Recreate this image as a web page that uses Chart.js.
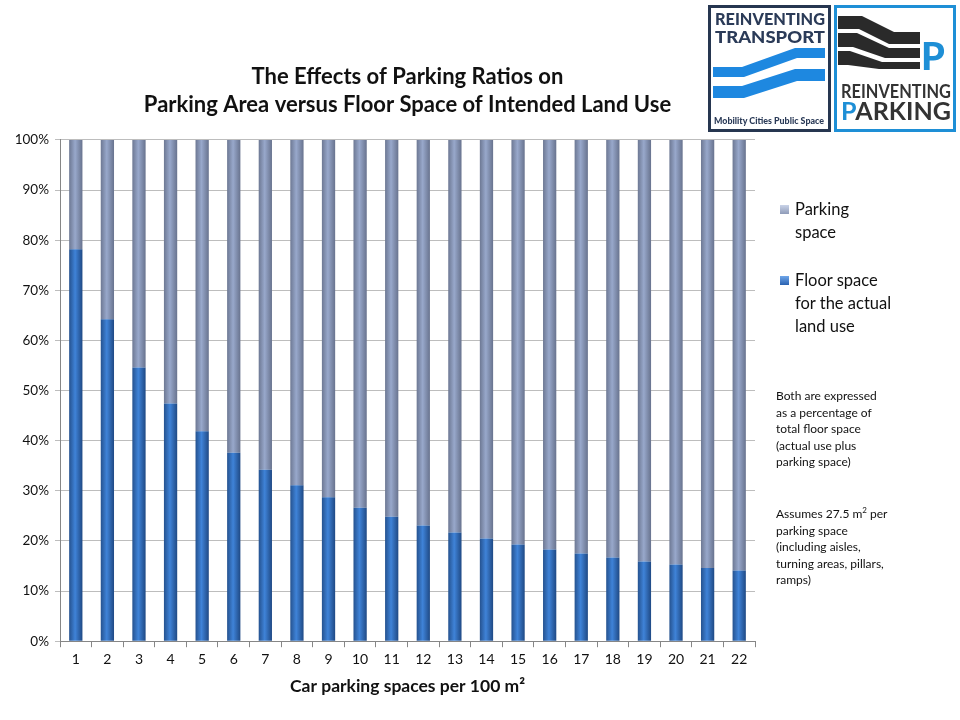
<!DOCTYPE html>
<html>
<head>
<meta charset="utf-8">
<script src="https://cdn.jsdelivr.net/npm/chart.js@4.4.1/dist/chart.umd.min.js"></script>
<style>
  body { margin: 0; background: #fff; font-family: Lato, "Open Sans", sans-serif; }
  #wrap { position: relative; width: 960px; height: 720px; overflow: hidden; }
  #chart { position: absolute; left: 0; top: 0; }
  .legend { position: absolute; left: 780px; font-size: 16.5px; line-height: 23px; color: #111; }
  .legend .box { position: absolute; left: 0; top: 7px; width: 9px; height: 9px; }
  .legend .txt { padding-left: 15px; }
  .note { position: absolute; left: 776px; font-size: 12px; line-height: 16.6px; color: #111; }
  #logos { position: absolute; left: 0; top: 0; }
</style>
</head>
<body>
<div id="wrap">
  <canvas id="chart" width="960" height="720"></canvas>

  <div class="legend" style="top:198px">
    <div class="box" style="background:linear-gradient(#c9d3e8,#8f9bb8)"></div>
    <div class="txt">Parking<br>space</div>
  </div>
  <div class="legend" style="top:269px">
    <div class="box" style="background:linear-gradient(#6fa6ea,#2a62b0)"></div>
    <div class="txt">Floor space<br>for the actual<br>land use</div>
  </div>
  <div class="note" style="top:388px">Both are expressed<br>as a percentage of<br>total floor space<br>(actual use plus<br>parking space)</div>
  <div class="note" style="top:502px">Assumes 27.5 m<sup style="font-size:8px">2</sup> per<br>parking space<br>(including aisles,<br>turning areas, pillars,<br>ramps)</div>

  <svg id="logos" width="960" height="140">
    <!-- Reinventing Transport -->
    <rect x="709.5" y="6.5" width="120" height="124" fill="#fff" stroke="#263650" stroke-width="3"/>
    <text x="715" y="25" font-family="Lato" font-weight="900" font-size="16" fill="#2b3b58" textLength="110" lengthAdjust="spacingAndGlyphs">REINVENTING</text>
    <text x="715" y="43" font-family="Lato" font-weight="900" font-size="16" fill="#2b3b58" textLength="110" lengthAdjust="spacingAndGlyphs">TRANSPORT</text>
    <polygon points="713,67 742,67 795,48 825,48 825,58 797,58 744,77 713,77" fill="#1e88e0"/>
    <polygon points="713,86 742,86 795,69 825,69 825,81 797,81 744,98 713,98" fill="#1e88e0"/>
    <text x="714" y="124" font-family="Lato" font-weight="900" font-size="9" fill="#2b3b58" textLength="110" lengthAdjust="spacingAndGlyphs">Mobility  Cities  Public Space</text>
    <!-- Reinventing Parking -->
    <rect x="835.5" y="6.5" width="119" height="124" fill="#fff" stroke="#1e8fd6" stroke-width="3"/>
    <polygon points="838,16 862,16 894,32 920,32 920,44 889,44 859,29 838,29" fill="#2a2a2a"/>
    <polygon points="838,33 857,33 889,48 920,48 920,58 885,58 853,47 838,47" fill="#2a2a2a"/>
    <polygon points="838,51 850,51 882,62 920,62 920,69 879,69 848,65 838,65" fill="#2a2a2a"/>
    <text x="921" y="70" font-family="Lato" font-weight="900" font-size="38" fill="#1e8fd6">P</text>
    <text x="841" y="98" font-family="Lato" font-weight="700" font-size="19" fill="#333" textLength="110" lengthAdjust="spacingAndGlyphs">REINVENTING</text>
    <text x="841" y="120" font-family="Lato" font-weight="700" font-size="24" fill="#333" textLength="110" lengthAdjust="spacingAndGlyphs"><tspan fill="#1e8fd6">P</tspan>ARKING</text>
  </svg>
</div>

<script>
// car parking spaces per 100 m2
const categories = ['1','2','3','4','5','6','7','8','9','10','11','12','13','14','15','16','17','18','19','20','21','22'];
// floor space for the actual land use, % of total
const floorSpace = [78.2, 64.2, 54.6, 47.4, 41.9, 37.6, 34.2, 31.1, 28.7, 26.6, 24.8, 23.1, 21.7, 20.5, 19.3, 18.3, 17.5, 16.7, 15.9, 15.3, 14.6, 14.1];
// parking space, % of total
const parkingSpace = [21.8, 35.8, 45.4, 52.6, 58.1, 62.4, 65.8, 68.9, 71.3, 73.4, 75.2, 76.9, 78.3, 79.5, 80.7, 81.7, 82.5, 83.3, 84.1, 84.7, 85.4, 85.9];
const yTicks = ['0%','10%','20%','30%','40%','50%','60%','70%','80%','90%','100%'];

const BAR_PCT = 0.42;

// horizontal "cylinder" shading for each bar, placed from the x scale
function shade(stops) {
  return function (ctx) {
    const chart = ctx.chart;
    const xs = chart.scales.x;
    if (!chart.chartArea || !xs || ctx.dataIndex === undefined) return stops[1];
    const cx = xs.getPixelForValue(ctx.dataIndex);
    const w = xs.width / categories.length * BAR_PCT;
    const g = chart.ctx.createLinearGradient(cx - w / 2, 0, cx + w / 2, 0);
    g.addColorStop(0, stops[0]);
    g.addColorStop(0.45, stops[1]);
    g.addColorStop(1, stops[2]);
    return g;
  };
}

new Chart(document.getElementById('chart'), {
  type: 'bar',
  data: {
    labels: categories,
    datasets: [
      {
        label: 'Floor space for the actual land use',
        data: floorSpace,
        backgroundColor: shade(['#25528f', '#3f83d8', '#1f4984']),
        borderWidth: 0,
        barPercentage: 1,
        categoryPercentage: BAR_PCT
      },
      {
        label: 'Parking space',
        data: parkingSpace,
        backgroundColor: shade(['#6d7893', '#98a8cb', '#68738e']),
        borderWidth: 0,
        barPercentage: 1,
        categoryPercentage: BAR_PCT
      }
    ]
  },
  options: {
    responsive: false,
    animation: false,
    layout: { padding: { top: 63, right: 205, bottom: 23, left: 0 } },
    plugins: {
      legend: { display: false },
      tooltip: { enabled: false },
      title: {
        display: true,
        fullSize: false,
        text: ['The Effects of Parking Ratios on', 'Parking Area versus Floor Space of Intended Land Use'],
        color: '#111',
        font: { family: 'Lato', size: 22, weight: 'bold', lineHeight: 1.27 },
        padding: { top: 0, bottom: 21 }
      }
    },
    scales: {
      x: {
        stacked: true,
        grid: { display: true, drawOnChartArea: false, tickLength: 6, color: '#868686', offset: true },
        border: { color: '#868686' },
        ticks: { color: '#111', font: { family: 'Lato', size: 14 }, padding: 4 },
        title: {
          display: true,
          text: 'Car parking spaces per 100 m²',
          color: '#111',
          font: { family: 'Lato', size: 17.5, weight: 'bold' },
          padding: { top: 4, bottom: 0 }
        }
      },
      y: {
        stacked: true,
        min: 0,
        max: 100,
        afterFit(scale) { scale.width = 60; },
        grid: { color: '#bdbdbd', tickLength: 5 },
        border: { color: '#868686' },
        ticks: {
          stepSize: 10,
          color: '#111',
          font: { family: 'Lato', size: 13.5 },
          padding: 6,
          callback: (v) => yTicks[Math.round(v / 10)]
        }
      }
    }
  }
});
</script>
</body>
</html>
